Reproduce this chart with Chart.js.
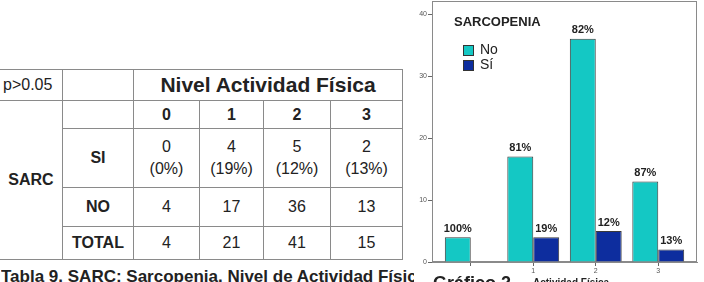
<!DOCTYPE html>
<html>
<head>
<meta charset="utf-8">
<script src="https://cdn.jsdelivr.net/npm/chart.js@4/dist/chart.umd.min.js"></script>
<style>
  body { margin: 0; width: 704px; height: 282px; overflow: hidden; background: #fff; font-family: "Liberation Sans", Arial, sans-serif; color: #222; position: relative; }
  #tabla { position: absolute; left: -1px; top: 69px; border-collapse: collapse; table-layout: fixed; width: 404px; }
  #tabla td { border: 1px solid #8a8a8a; text-align: center; vertical-align: middle; padding: 0; font-size: 16px; line-height: 1.35; }
  #tabla .b { font-weight: bold; }
  #tabla .big { font-weight: bold; font-size: 21px; }
  #tabla .p { text-align: left; padding-left: 3px; }
  #caption { position: absolute; left: 1px; top: 267px; width: 413px; overflow: hidden; white-space: nowrap; font-weight: bold; font-size: 17px; }
  #chartWrap { position: absolute; left: 405px; top: 0; }
  .leg { position: absolute; font-family: "Liberation Sans", Arial, sans-serif; }
  .sq { position: absolute; width: 9px; height: 9px; border: 1px solid #333; }
  #g2 { position: absolute; left: 433px; top: 273px; font-weight: bold; font-size: 18px; white-space: nowrap; }
  #g2b { position: absolute; left: 533px; top: 277px; font-weight: bold; font-size: 10px; white-space: nowrap; }
</style>
</head>
<body>
<table id="tabla"></table>
<div id="caption">Tabla 9. SARC: Sarcopenia. Nivel de Actividad Física</div>
<div id="chartWrap"><canvas id="barChart" width="299" height="282"></canvas></div>
<div class="leg" style="left:454px; top:14px; font-weight:bold; font-size:13px;">SARCOPENIA</div>
<div class="sq" style="left:463px; top:45px; background:#14C8C4;"></div>
<div class="leg" style="left:480px; top:41px; font-size:14px;">No</div>
<div class="sq" style="left:463px; top:60px; background:#0D2D9E;"></div>
<div class="leg" style="left:480px; top:56px; font-size:14px;">Sí</div>
<div id="g2">Gráfico 2</div>
<div id="g2b">Actividad Física</div>
<script>
// === DATOS ===
const nivelLabels = ["0", "1", "2", "3"];
const nivelValues = [0, 1, 2, 3];
const siCounts = [0, 4, 5, 2];
const siPctText = ["(0%)", "(19%)", "(12%)", "(13%)"];
const noCounts = [4, 17, 36, 13];
const totalCounts = [4, 21, 41, 15];

const noBar = [4, 17, 36, 13];
const siBar = [null, 4, 5, 2];
const noBarPct = ["100%", "81%", "82%", "87%"];
const siBarPct = ["", "19%", "12%", "13%"];
const xTickLabels = ["", "1", "2", "3"];
const yTicks = [0, 10, 20, 30, 40];

// === TABLA ===
const tabla = document.getElementById("tabla");
const widths = [63, 71, 66, 64, 67, 72];
let html = "<colgroup>" + widths.map(w => `<col style="width:${w}px">`).join("") + "</colgroup>";
html += `<tr style="height:31px"><td class="p">p&gt;0.05</td><td></td><td colspan="4" class="big">Nivel Actividad Física</td></tr>`;
html += `<tr style="height:28px"><td rowspan="4" class="b">SARC</td><td></td>` + nivelLabels.map(l => `<td class="b">${l}</td>`).join("") + "</tr>";
html += `<tr style="height:59px"><td class="b">SI</td>` + siCounts.map((v, i) => `<td>${v}<br>${siPctText[i]}</td>`).join("") + "</tr>";
html += `<tr style="height:39px"><td class="b">NO</td>` + noCounts.map(v => `<td>${v}</td>`).join("") + "</tr>";
html += `<tr style="height:33px"><td class="b">TOTAL</td>` + totalCounts.map(v => `<td>${v}</td>`).join("") + "</tr>";
tabla.innerHTML = html;

// === GRAFICO ===
const boxPlugin = {
  id: "box",
  beforeDatasetsDraw(chart) {
    const { ctx, chartArea: a } = chart;
    ctx.save();
    ctx.strokeStyle = "#8a8a8a";
    ctx.lineWidth = 1;
    ctx.strokeRect(a.left + 0.5, a.top + 0.5, a.right - a.left - 1, a.bottom - a.top - 1);
    ctx.restore();
  }
};

const pctPlugin = {
  id: "pct",
  afterDatasetsDraw(chart) {
    const ctx = chart.ctx;
    ctx.save();
    ctx.font = "bold 11px 'Liberation Sans', Arial, sans-serif";
    ctx.fillStyle = "#222";
    ctx.textAlign = "center";
    ctx.textBaseline = "bottom";
    [noBarPct, siBarPct].forEach((labels, d) => {
      chart.getDatasetMeta(d).data.forEach((bar, i) => {
        if (!labels[i] || bar.skip) return;
        ctx.fillText(labels[i], bar.x, bar.y - 3);
      });
    });
    ctx.restore();
  }
};

new Chart(document.getElementById("barChart").getContext("2d"), {
  type: "bar",
  data: {
    datasets: [
      {
        label: "No",
        data: nivelValues.map((x, i) => ({ x: x, y: noBar[i] })),
        backgroundColor: "#14C8C4",
        borderColor: "#3a3a3a",
        borderWidth: 1,
        borderSkipped: "bottom"
      },
      {
        label: "Sí",
        data: nivelValues.map((x, i) => ({ x: x, y: siBar[i] })),
        backgroundColor: "#0D2D9E",
        borderColor: "#3a3a3a",
        borderWidth: 1,
        borderSkipped: "bottom"
      }
    ]
  },
  options: {
    responsive: false,
    animation: false,
    devicePixelRatio: 1,
    layout: { padding: { top: 1, right: 7, bottom: 0, left: 0 } },
    datasets: { bar: { categoryPercentage: 0.83, barPercentage: 1 } },
    plugins: { legend: { display: false }, tooltip: { enabled: false } },
    scales: {
      x: {
        type: "linear",
        offset: false,
        min: -0.62,
        max: 3.62,
        afterBuildTicks: (scale) => { scale.ticks = nivelValues.map(v => ({ value: v })); },
        afterFit: (scale) => { scale.height = 20; scale.paddingLeft = 0; scale.paddingRight = 0; },
        grid: { offset: false, drawOnChartArea: false, drawTicks: true, tickLength: 4, color: "#666" },
        border: { color: "#8a8a8a" },
        ticks: {
          autoSkip: false,
          maxRotation: 0,
          padding: 1,
          color: "#555",
          font: { size: 7, family: "'Liberation Sans', Arial, sans-serif" },
          callback: (v) => xTickLabels[nivelValues.indexOf(v)]
        }
      },
      y: {
        min: 0,
        max: 42.1,
        afterBuildTicks: (scale) => { scale.ticks = yTicks.map(v => ({ value: v })); },
        afterFit: (scale) => { scale.width = 27; scale.paddingTop = 0; scale.paddingBottom = 0; },
        grid: { drawOnChartArea: false, drawTicks: true, tickLength: 4, color: "#666" },
        border: { color: "#8a8a8a" },
        ticks: {
          padding: 1,
          color: "#555",
          font: { size: 7, family: "'Liberation Sans', Arial, sans-serif" }
        }
      }
    }
  },
  plugins: [boxPlugin, pctPlugin]
});
</script>
</body>
</html>
